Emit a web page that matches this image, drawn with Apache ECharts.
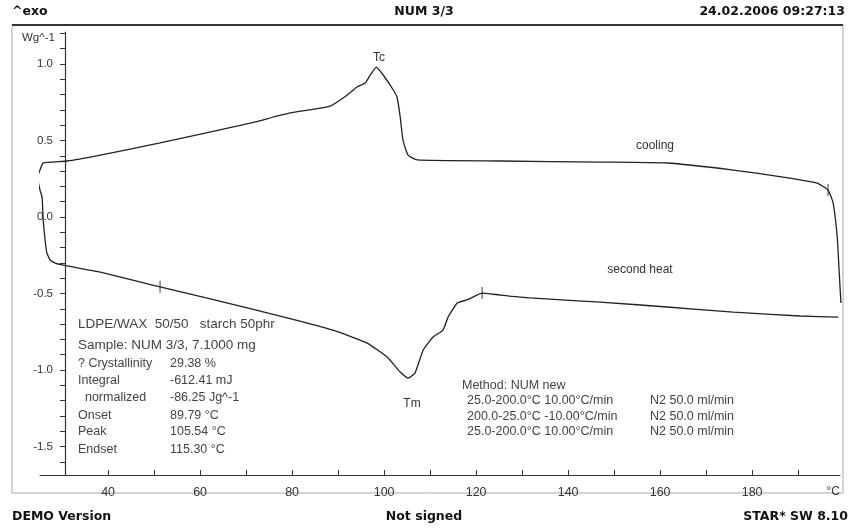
<!DOCTYPE html>
<html>
<head>
<meta charset="utf-8">
<script src="https://cdn.jsdelivr.net/npm/echarts@6/dist/echarts.min.js"></script>
<style>
html,body{margin:0;padding:0;background:#fff;}
#chart{width:848px;height:531px;}
</style>
</head>
<body>
<div id="chart"></div>
<script>
// ---- data (temperature °C, heat flow W/g) ----
var coolingT = [199.3, 198.9, 198.5, 197.6, 196.5, 194.1, 186.7, 175.9, 161.5, 147.0, 125.2, 107.2, 105.2, 104.1, 103.5, 102.8, 102.0, 99.8, 98.3, 97.0, 95.9, 94.1, 92.0, 88.3, 79.6, 70.9, 51.3, 38.3, 31.1, 25.9, 25.2, 24.6];
var coolingV = [-0.562, -0.346, -0.131, 0.092, 0.176, 0.222, 0.261, 0.307, 0.353, 0.359, 0.366, 0.373, 0.405, 0.503, 0.654, 0.784, 0.830, 0.928, 0.980, 0.928, 0.876, 0.850, 0.797, 0.725, 0.680, 0.614, 0.484, 0.405, 0.366, 0.353, 0.307, 0.261];
var heatT = [24.6, 25.2, 25.65, 25.9, 26.3, 26.7, 27.4, 28.5, 31.1, 38.3, 51.3, 70.9, 81.7, 88.9, 96.3, 100.65, 103.5, 105.2, 106.7, 108.5, 110.65, 112.8, 113.9, 115.9, 118.0, 119.3, 121.3, 125.2, 131.7, 147.0, 161.5, 175.9, 190.4, 198.7];
var heatV = [0.261, 0.176, 0.131, -0.020, -0.150, -0.235, -0.281, -0.301, -0.320, -0.360, -0.456, -0.599, -0.680, -0.739, -0.824, -0.915, -1.013, -1.052, -1.020, -0.869, -0.784, -0.739, -0.654, -0.562, -0.542, -0.523, -0.497, -0.510, -0.529, -0.556, -0.588, -0.621, -0.647, -0.654];
var limitT = [51.3, 121.3, 196.5];
var limitV = [-0.456, -0.497, 0.176];
var xLabels = [40, 60, 80, 100, 120, 140, 160, 180];
var xTicks = [40, 50, 60, 70, 80, 90, 100, 110, 120, 130, 140, 150, 160, 170, 180, 190];
var yLabels = [-1.5, -1.0, -0.5, 0.0, 0.5, 1.0];
var yTicks = [-1.6, -1.5, -1.4, -1.3, -1.2, -1.1, -1.0, -0.9, -0.8, -0.7, -0.6, -0.5, -0.4, -0.3, -0.2, -0.1, 0.0, 0.1, 0.2, 0.3, 0.4, 0.5, 0.6, 0.7, 0.8, 0.9, 1.0, 1.1, 1.2];

var infoLabels = ['? Crystallinity', 'Integral', '  normalized', 'Onset', 'Peak', 'Endset'];
var infoValues = ['29.38 %', '-612.41 mJ', '-86.25 Jg^-1', '89.79 °C', '105.54 °C', '115.30 °C'];
var methodSeg = ['25.0-200.0°C 10.00°C/min', '200.0-25.0°C -10.00°C/min', '25.0-200.0°C 10.00°C/min'];
var methodGas = ['N2 50.0 ml/min', 'N2 50.0 ml/min', 'N2 50.0 ml/min'];

function zip(a, b) { return a.map(function (v, i) { return [v, b[i]]; }); }

var chart = echarts.init(document.getElementById('chart'), null, {renderer: 'canvas'});
var FONT = 'Liberation Sans';
var BOLD = 'DejaVu Sans';
var txtCol = '#444';

function txt(x, y, s, size, opts) {
  opts = opts || {};
  return {type: 'text', x: x, y: y, z: 10, style: {
    text: s, fontFamily: opts.family || FONT, fontSize: size, fontWeight: opts.bold ? 'bold' : 'normal',
    fill: opts.color || txtCol, align: opts.align || 'left', verticalAlign: 'middle'}};
}

var graphics = [
  {type: 'rect', shape: {x: 12, y: 25, width: 831, height: 468}, style: {fill: 'none', stroke: '#aaa', lineWidth: 1}, z: 0},
  {type: 'line', shape: {x1: 12, y1: 25, x2: 843, y2: 25}, style: {stroke: '#333', lineWidth: 2}},
  txt(12, 12, '^exo', 12.5, {family: BOLD, bold: true, color: '#111'}),
  txt(424, 12, 'NUM 3/3', 12.5, {family: BOLD, bold: true, color: '#111', align: 'center'}),
  txt(845, 12, '24.02.2006 09:27:13', 12.5, {family: BOLD, bold: true, color: '#111', align: 'right'}),
  txt(12, 517, 'DEMO Version', 12.5, {family: BOLD, bold: true, color: '#111'}),
  txt(424, 517, 'Not signed', 12.5, {family: BOLD, bold: true, color: '#111', align: 'center'}),
  txt(848, 517, 'STAR* SW 8.10', 12.5, {family: BOLD, bold: true, color: '#111', align: 'right'}),
  txt(22, 38, 'Wg^-1', 11.5, {color: '#333'}),
  txt(840, 492, '°C', 12, {color: '#333', align: 'right'}),
  txt(379, 58, 'Tc', 12, {color: '#333', align: 'center'}),
  txt(412, 404, 'Tm', 12, {color: '#333', align: 'center'}),
  txt(655, 146, 'cooling', 12, {color: '#333', align: 'center'}),
  txt(640, 270, 'second heat', 12, {color: '#333', align: 'center'}),
  txt(78, 324, 'LDPE/WAX  50/50   starch 50phr', 13.5),
  txt(78, 345, 'Sample: NUM 3/3, 7.1000 mg', 13.5),
  txt(462, 386, 'Method: NUM new', 12.5)
];
var infoY = [364, 381, 398, 416, 432, 450];
infoLabels.forEach(function (s, i) {
  graphics.push(txt(78, infoY[i], s, 12.5));
  graphics.push(txt(170, infoY[i], infoValues[i], 12.5));
});
var methY = [401, 417, 432];
methodSeg.forEach(function (s, i) {
  graphics.push(txt(467, methY[i], s, 12.5));
  graphics.push(txt(650, methY[i], methodGas[i], 12.5));
});

var option = {
  animation: false,
  backgroundColor: '#fff',
  grid: {left: 40, right: 8, top: 32, bottom: 56, containLabel: false},
  xAxis: {
    type: 'value', min: 25.2, max: 199.1,
    axisLine: {show: true, onZero: false, lineStyle: {color: '#333', width: 1.2}},
    axisTick: {show: true, inside: true, length: 5, customValues: xTicks, lineStyle: {color: '#333'}},
    axisLabel: {customValues: xLabels, margin: 11, fontSize: 12.5, fontFamily: FONT, color: '#333'},
    splitLine: {show: false}
  },
  yAxis: {
    type: 'value', min: -1.686, max: 1.209, offset: -25,
    axisLine: {show: true, onZero: false, lineStyle: {color: '#333', width: 1.2}},
    axisTick: {show: true, inside: false, length: 5, customValues: yTicks, lineStyle: {color: '#333'}},
    axisLabel: {customValues: yLabels, margin: 12, fontSize: 11.5, fontFamily: FONT, color: '#333',
      formatter: function (v) { return v.toFixed(1); }},
    splitLine: {show: false}
  },
  graphic: graphics,
  series: [
    {name: 'cooling', type: 'line', data: zip(coolingT, coolingV), showSymbol: false, clip: false,
      lineStyle: {color: '#222', width: 1.3}, smooth: 0.15},
    {name: 'second heat', type: 'line', data: zip(heatT, heatV), showSymbol: false, clip: false,
      lineStyle: {color: '#222', width: 1.3}, smooth: 0.15},
    {name: 'limits', type: 'scatter', data: zip(limitT, limitV), symbol: 'rect', symbolSize: [1.2, 12],
      itemStyle: {color: '#333'}}
  ]
};
chart.setOption(option);
</script>
</body>
</html>
